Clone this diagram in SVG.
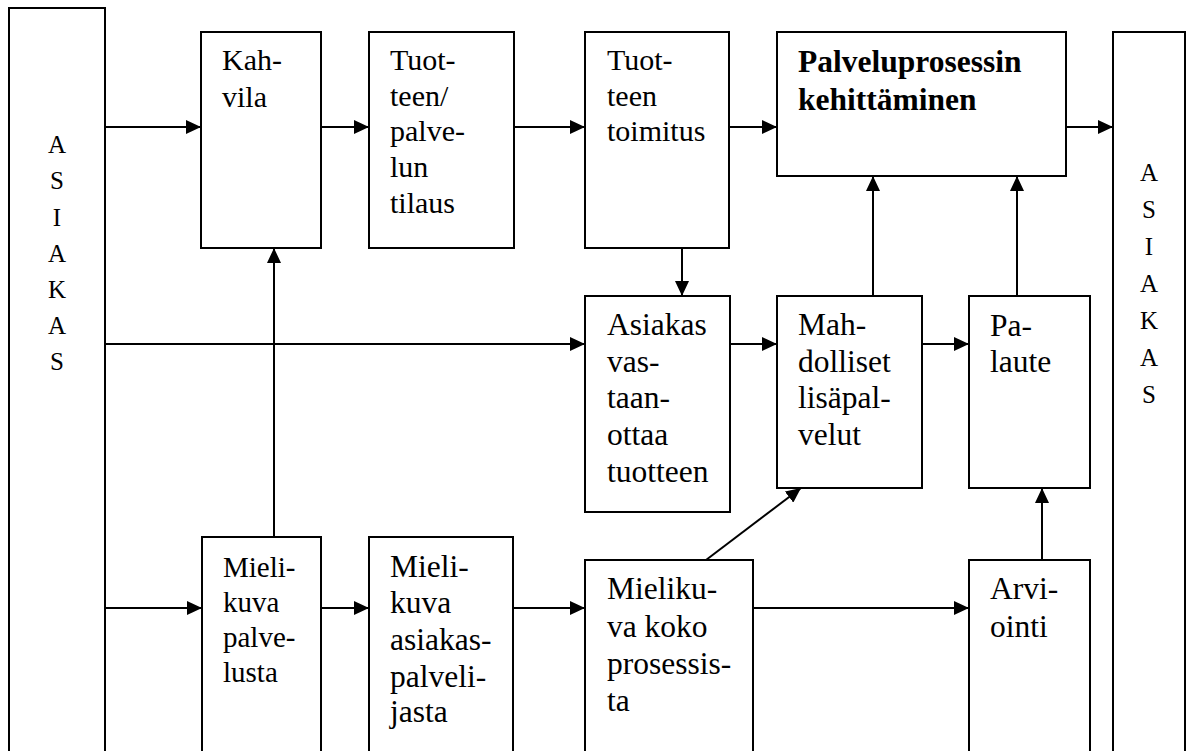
<svg xmlns="http://www.w3.org/2000/svg" width="1191" height="751" viewBox="0 0 1191 751">
  <style>
    .box { fill: #fff; stroke: #000; stroke-width: 2; }
    .link { fill: none; stroke: #000; stroke-width: 2; }
    .arrow { marker-end: url(#head); }
    .lbl { font-family: "Liberation Serif", "Times New Roman", serif; fill: #000; }
    .t30 { font-size: 30px; }
    .t31 { font-size: 31.5px; }
    .t29 { font-size: 29px; }
    .bold { font-size: 31.5px; font-weight: bold; }
    .side { font-size: 25px; text-anchor: middle; }
  </style>
  <defs>
    <marker id="head" markerUnits="userSpaceOnUse" markerWidth="15" markerHeight="14" refX="15" refY="7" orient="auto">
      <path d="M0,0 L15,7 L0,14 Z" fill="#000"/>
    </marker>
  </defs>
  <rect width="1191" height="751" fill="#fff"/>

  <!-- customer column, left -->
  <g id="asiakas-left">
    <rect class="box" x="9" y="8" width="96" height="780"/>
    <text class="lbl side" x="57" y="153">A</text>
    <text class="lbl side" x="57" y="189">S</text>
    <text class="lbl side" x="57" y="226">I</text>
    <text class="lbl side" x="57" y="262">A</text>
    <text class="lbl side" x="57" y="298">K</text>
    <text class="lbl side" x="57" y="334">A</text>
    <text class="lbl side" x="57" y="370">S</text>
  </g>

  <!-- customer column, right -->
  <g id="asiakas-right">
    <rect class="box" x="1113" y="32" width="72" height="760"/>
    <text class="lbl side" x="1149" y="181">A</text>
    <text class="lbl side" x="1149" y="218">S</text>
    <text class="lbl side" x="1149" y="255">I</text>
    <text class="lbl side" x="1149" y="292">A</text>
    <text class="lbl side" x="1149" y="329">K</text>
    <text class="lbl side" x="1149" y="366">A</text>
    <text class="lbl side" x="1149" y="403">S</text>
  </g>

  <!-- connectors -->
  <g id="connectors">
    <line class="link arrow" x1="105" y1="127" x2="201" y2="127"/>
    <line class="link arrow" x1="321" y1="127" x2="369" y2="127"/>
    <line class="link arrow" x1="514" y1="127" x2="585" y2="127"/>
    <line class="link arrow" x1="729" y1="127" x2="777" y2="127"/>
    <line class="link arrow" x1="1066" y1="127" x2="1113" y2="127"/>
    <line class="link arrow" x1="682" y1="248" x2="682" y2="296"/>
    <line class="link arrow" x1="105" y1="344" x2="585" y2="344"/>
    <line class="link arrow" x1="730" y1="344" x2="777" y2="344"/>
    <line class="link arrow" x1="922" y1="344" x2="969" y2="344"/>
    <line class="link arrow" x1="873" y1="296" x2="873" y2="176"/>
    <line class="link arrow" x1="1017" y1="296" x2="1017" y2="176"/>
    <line class="link arrow" x1="274" y1="537" x2="274" y2="248"/>
    <line class="link arrow" x1="105" y1="608" x2="202" y2="608"/>
    <line class="link arrow" x1="321" y1="608" x2="369" y2="608"/>
    <line class="link arrow" x1="513" y1="608" x2="585" y2="608"/>
    <line class="link arrow" x1="753" y1="608" x2="969" y2="608"/>
    <line class="link arrow" x1="706" y1="560" x2="801" y2="488"/>
    <line class="link arrow" x1="1042" y1="560" x2="1042" y2="488"/>
  </g>

  <g id="kahvila">
    <rect class="box" x="201" y="32" width="120" height="216"/>
    <text class="lbl t30" x="222" y="70">Kah-</text>
    <text class="lbl t30" x="222" y="107">vila</text>
  </g>

  <g id="tilaus">
    <rect class="box" x="369" y="32" width="145" height="216"/>
    <text class="lbl t30" x="390" y="70">Tuot-</text>
    <text class="lbl t30" x="390" y="106">teen/</text>
    <text class="lbl t30" x="390" y="141">palve-</text>
    <text class="lbl t30" x="390" y="177">lun</text>
    <text class="lbl t30" x="390" y="213">tilaus</text>
  </g>

  <g id="toimitus">
    <rect class="box" x="585" y="32" width="144" height="216"/>
    <text class="lbl t30" x="607" y="70">Tuot-</text>
    <text class="lbl t30" x="607" y="106">teen</text>
    <text class="lbl t30" x="607" y="141">toimitus</text>
  </g>

  <g id="kehittaminen">
    <rect class="box" x="777" y="32" width="289" height="144"/>
    <text class="lbl bold" x="798" y="72">Palveluprosessin</text>
    <text class="lbl bold" x="798" y="110">kehittäminen</text>
  </g>

  <g id="vastaanotto">
    <rect class="box" x="585" y="296" width="145" height="216"/>
    <text class="lbl t31" x="607" y="335">Asiakas</text>
    <text class="lbl t31" x="607" y="372">vas-</text>
    <text class="lbl t31" x="607" y="408">taan-</text>
    <text class="lbl t31" x="607" y="445">ottaa</text>
    <text class="lbl t31" x="607" y="482">tuotteen</text>
  </g>

  <g id="lisapalvelut">
    <rect class="box" x="777" y="296" width="145" height="192"/>
    <text class="lbl t31" x="798" y="335">Mah-</text>
    <text class="lbl t31" x="798" y="372">dolliset</text>
    <text class="lbl t31" x="798" y="408">lisäpal-</text>
    <text class="lbl t31" x="798" y="445">velut</text>
  </g>

  <g id="palaute">
    <rect class="box" x="969" y="296" width="121" height="192"/>
    <text class="lbl t31" x="990" y="336">Pa-</text>
    <text class="lbl t31" x="990" y="372">laute</text>
  </g>

  <g id="mielikuva-palvelusta">
    <rect class="box" x="202" y="537" width="119" height="260"/>
    <text class="lbl t29" x="223" y="577">Mieli-</text>
    <text class="lbl t29" x="223" y="612">kuva</text>
    <text class="lbl t29" x="223" y="647">palve-</text>
    <text class="lbl t29" x="223" y="682">lusta</text>
  </g>

  <g id="mielikuva-asiakaspalvelija">
    <rect class="box" x="369" y="537" width="144" height="260"/>
    <text class="lbl t31" x="390" y="577">Mieli-</text>
    <text class="lbl t31" x="390" y="613">kuva</text>
    <text class="lbl t31" x="390" y="650">asiakas-</text>
    <text class="lbl t31" x="390" y="687">palveli-</text>
    <text class="lbl t31" x="390" y="722">jasta</text>
  </g>

  <g id="mielikuva-prosessi">
    <rect class="box" x="585" y="560" width="168" height="240"/>
    <text class="lbl t31" x="607" y="599">Mieliku-</text>
    <text class="lbl t31" x="607" y="637">va koko</text>
    <text class="lbl t31" x="607" y="674">prosessis-</text>
    <text class="lbl t31" x="607" y="711">ta</text>
  </g>

  <g id="arviointi">
    <rect class="box" x="969" y="560" width="121" height="240"/>
    <text class="lbl t31" x="990" y="599">Arvi-</text>
    <text class="lbl t31" x="990" y="637">ointi</text>
  </g>
</svg>
